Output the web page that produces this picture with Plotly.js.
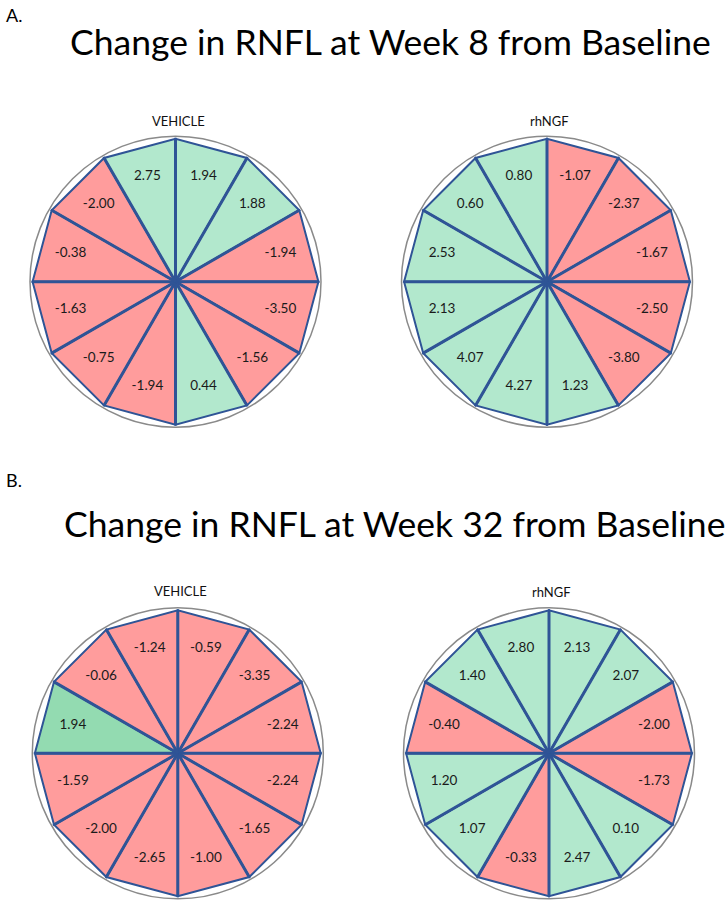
<!DOCTYPE html>
<html>
<head>
<meta charset="utf-8">
<script src="https://cdn.plot.ly/plotly-3.0.1.min.js"></script>
<style>html,body{margin:0;padding:0;background:#fff;}#chart{width:727px;height:903px;}</style>
</head>
<body>
<div id="chart"></div>
<script>
// Sector values, listed clockwise starting from the 12 o'clock sector (0°–30°)
const sectorStartDeg = [0, 30, 60, 90, 120, 150, 180, 210, 240, 270, 300, 330];
const week8Vehicle = [1.94, 1.88, -1.94, -3.50, -1.56, 0.44, -1.94, -0.75, -1.63, -0.38, -2.00, 2.75];
const week8RhNGF = [-1.07, -2.37, -1.67, -2.50, -3.80, 1.23, 4.27, 4.07, 2.13, 2.53, 0.60, 0.80];
const week32Vehicle = [-0.59, -3.35, -2.24, -2.24, -1.65, -1.00, -2.65, -2.00, -1.59, 1.94, -0.06, -1.24];
const week32RhNGF = [2.13, 2.07, -2.00, -1.73, 0.10, 2.47, -0.33, 1.07, 1.20, -0.40, 1.40, 2.80];
const panelTitles = ["VEHICLE", "rhNGF", "VEHICLE", "rhNGF"];
const sectionTitles = ["Change in RNFL at Week 8 from Baseline", "Change in RNFL at Week 32 from Baseline"];
const sectionLetters = ["A.", "B."];

const W = 727, H = 903;
const FONT = "Lato, 'Open Sans', sans-serif";
const RED = "#FF9C9C", GREEN = "#B2E8CD", DARKGREEN = "#93DBB1", EDGE = "#2F5496";

// panel layout (pixel centers and circle radius)
const panels = [
  {vals: week8Vehicle, cx: 175.5, cy: 281.7, title: panelTitles[0], ty: 121},
  {vals: week8RhNGF, cx: 547, cy: 281.7, title: panelTitles[1], ty: 121},
  {vals: week32Vehicle, cx: 177.8, cy: 753.3, title: panelTitles[2], ty: 591, highlight: [9]},
  {vals: week32RhNGF, cx: 549, cy: 753.3, title: panelTitles[3], ty: 592}
];
const Rc = 145.5; // circle radius in px
const rMax = 1.018;

const traces = [];
const layout = {
  width: W, height: H,
  margin: {l: 0, r: 0, t: 0, b: 0},
  paper_bgcolor: "#fff",
  showlegend: false,
  font: {family: FONT, color: "#222"},
  annotations: []
};

panels.forEach((p, i) => {
  const key = i === 0 ? "polar" : "polar" + (i + 1);
  const sub = key;
  layout[key] = {
    domain: {
      x: [(p.cx - Rc) / W, (p.cx + Rc) / W],
      y: [1 - (p.cy + Rc) / H, 1 - (p.cy - Rc) / H]
    },
    bgcolor: "rgba(0,0,0,0)",
    radialaxis: {visible: false, range: [0, rMax]},
    angularaxis: {
      rotation: 90, direction: "clockwise",
      showgrid: false, showticklabels: false, ticks: "",
      showline: true, linecolor: "#8a8a8a", linewidth: 1.5
    }
  };
  // triangles
  p.vals.forEach((v, k) => {
    const a0 = sectorStartDeg[k], a1 = a0 + 30;
    let col = v >= 0 ? GREEN : RED;
    if (p.highlight && p.highlight.indexOf(k) >= 0) col = DARKGREEN;
    traces.push({
      type: "scatterpolar", subplot: sub,
      r: [0, 1, 1, 0], theta: [a0, a0, a1, a0],
      mode: "lines", fill: "toself", fillcolor: col,
      line: {color: EDGE, width: 2},
      hoverinfo: "skip"
    });
  });
  // spokes
  const sr = [], st = [];
  sectorStartDeg.forEach(a => { sr.push(0, 1, null); st.push(a, a, null); });
  traces.push({
    type: "scatterpolar", subplot: sub, r: sr, theta: st,
    mode: "lines", line: {color: EDGE, width: 3}, hoverinfo: "skip"
  });
  // labels
  traces.push({
    type: "scatterpolar", subplot: sub,
    r: p.vals.map(() => 0.76),
    theta: sectorStartDeg.map(a => a + 15),
    mode: "text",
    text: p.vals.map(v => v.toFixed(2)),
    textfont: {family: FONT, size: 13.5, color: "#1a1a1a"},
    textposition: "middle center",
    hoverinfo: "skip"
  });
  layout.annotations.push({
    xref: "paper", yref: "paper", x: p.cx / W + 0.004, y: 1 - p.ty / H,
    text: p.title, showarrow: false, xanchor: "center", yanchor: "middle",
    font: {family: FONT, size: 13, color: "#111"}
  });
});

// section titles
const secY = [41, 523], letY = [15, 480], secX = [390.5, 394];
sectionTitles.forEach((t, i) => {
  layout.annotations.push({
    xref: "paper", yref: "paper", x: secX[i] / W, y: 1 - secY[i] / H,
    text: t, showarrow: false, xanchor: "center", yanchor: "middle",
    font: {family: FONT, size: 35.5, color: "#000"}
  });
  layout.annotations.push({
    xref: "paper", yref: "paper", x: 4 / W, y: 1 - letY[i] / H,
    text: sectionLetters[i], showarrow: false, xanchor: "left", yanchor: "middle",
    font: {family: FONT, size: 18, color: "#000"}
  });
});

Plotly.newPlot("chart", traces, layout, {staticPlot: true});
</script>
</body>
</html>
